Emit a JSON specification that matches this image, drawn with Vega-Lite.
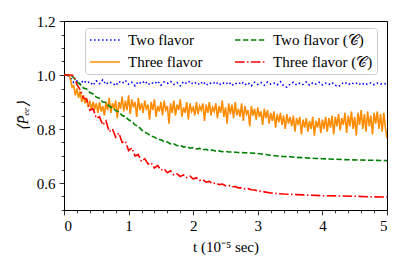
{
"$schema": "https://vega.github.io/schema/vega-lite/v6.json",
"width": 323, "height": 189,
"autosize": {"type": "none"},
"padding": {"left": 64, "top": 21, "right": 20, "bottom": 61},
"background": "white",
"data": {"values": [
{"s":"a","t":0,"v":1},{"s":"a","t":0.05,"v":1},{"s":"a","t":0.1,"v":0.99},{"s":"a","t":0.15,"v":0.972},{"s":"a","t":0.2,"v":0.978},{"s":"a","t":0.25,"v":0.966},{"s":"a","t":0.3,"v":0.98},{"s":"a","t":0.35,"v":0.97},{"s":"a","t":0.4,"v":0.975},{"s":"a","t":0.45,"v":0.962},{"s":"a","t":0.5,"v":0.978},{"s":"a","t":0.55,"v":0.968},{"s":"a","t":0.6,"v":0.982},{"s":"a","t":0.65,"v":0.965},{"s":"a","t":0.7,"v":0.974},{"s":"a","t":0.75,"v":0.97},{"s":"a","t":0.8,"v":0.961},{"s":"a","t":0.85,"v":0.976},{"s":"a","t":0.9,"v":0.969},{"s":"a","t":0.95,"v":0.98},{"s":"a","t":1.0,"v":0.966},{"s":"a","t":1.05,"v":0.973},{"s":"a","t":1.1,"v":0.96},{"s":"a","t":1.15,"v":0.975},{"s":"a","t":1.2,"v":0.968},{"s":"a","t":1.25,"v":0.978},{"s":"a","t":1.3,"v":0.964},{"s":"a","t":1.35,"v":0.972},{"s":"a","t":1.4,"v":0.967},{"s":"a","t":1.45,"v":0.977},{"s":"a","t":1.5,"v":0.962},{"s":"a","t":1.55,"v":0.974},{"s":"a","t":1.6,"v":0.969},{"s":"a","t":1.65,"v":0.976},{"s":"a","t":1.7,"v":0.965},{"s":"a","t":1.75,"v":0.972},{"s":"a","t":1.8,"v":0.96},{"s":"a","t":1.85,"v":0.975},{"s":"a","t":1.9,"v":0.968},{"s":"a","t":1.95,"v":0.977},{"s":"a","t":2.0,"v":0.966},{"s":"a","t":2.05,"v":0.973},{"s":"a","t":2.1,"v":0.964},{"s":"a","t":2.15,"v":0.976},{"s":"a","t":2.2,"v":0.962},{"s":"a","t":2.25,"v":0.971},{"s":"a","t":2.3,"v":0.967},{"s":"a","t":2.35,"v":0.975},{"s":"a","t":2.4,"v":0.963},{"s":"a","t":2.45,"v":0.972},{"s":"a","t":2.5,"v":0.966},{"s":"a","t":2.55,"v":0.974},{"s":"a","t":2.6,"v":0.961},{"s":"a","t":2.65,"v":0.97},{"s":"a","t":2.7,"v":0.966},{"s":"a","t":2.75,"v":0.975},{"s":"a","t":2.8,"v":0.963},{"s":"a","t":2.85,"v":0.971},{"s":"a","t":2.9,"v":0.96},{"s":"a","t":2.95,"v":0.973},{"s":"a","t":3.0,"v":0.965},{"s":"a","t":3.05,"v":0.972},{"s":"a","t":3.1,"v":0.962},{"s":"a","t":3.15,"v":0.974},{"s":"a","t":3.2,"v":0.966},{"s":"a","t":3.25,"v":0.97},{"s":"a","t":3.3,"v":0.964},{"s":"a","t":3.35,"v":0.975},{"s":"a","t":3.4,"v":0.96},{"s":"a","t":3.45,"v":0.955},{"s":"a","t":3.5,"v":0.966},{"s":"a","t":3.55,"v":0.973},{"s":"a","t":3.6,"v":0.963},{"s":"a","t":3.65,"v":0.97},{"s":"a","t":3.7,"v":0.965},{"s":"a","t":3.75,"v":0.974},{"s":"a","t":3.8,"v":0.962},{"s":"a","t":3.85,"v":0.971},{"s":"a","t":3.9,"v":0.966},{"s":"a","t":3.95,"v":0.973},{"s":"a","t":4.0,"v":0.963},{"s":"a","t":4.05,"v":0.97},{"s":"a","t":4.1,"v":0.965},{"s":"a","t":4.15,"v":0.972},{"s":"a","t":4.2,"v":0.962},{"s":"a","t":4.25,"v":0.957},{"s":"a","t":4.3,"v":0.968},{"s":"a","t":4.35,"v":0.973},{"s":"a","t":4.4,"v":0.964},{"s":"a","t":4.45,"v":0.971},{"s":"a","t":4.5,"v":0.966},{"s":"a","t":4.55,"v":0.972},{"s":"a","t":4.6,"v":0.963},{"s":"a","t":4.65,"v":0.97},{"s":"a","t":4.7,"v":0.965},{"s":"a","t":4.75,"v":0.971},{"s":"a","t":4.8,"v":0.964},{"s":"a","t":4.85,"v":0.97},{"s":"a","t":4.9,"v":0.966},{"s":"a","t":4.95,"v":0.969},{"s":"a","t":5.0,"v":0.965},
{"s":"b","t":0,"v":1},{"s":"b","t":0.025,"v":1},{"s":"b","t":0.05,"v":1},{"s":"b","t":0.075,"v":1},{"s":"b","t":0.1,"v":0.985},{"s":"b","t":0.125,"v":0.955},{"s":"b","t":0.15,"v":0.96},{"s":"b","t":0.175,"v":0.925},{"s":"b","t":0.2,"v":0.95},{"s":"b","t":0.225,"v":0.915},{"s":"b","t":0.25,"v":0.94},{"s":"b","t":0.275,"v":0.9},{"s":"b","t":0.3,"v":0.925},{"s":"b","t":0.325,"v":0.895},{"s":"b","t":0.35,"v":0.915},{"s":"b","t":0.375,"v":0.88},{"s":"b","t":0.4,"v":0.905},{"s":"b","t":0.425,"v":0.87},{"s":"b","t":0.45,"v":0.9},{"s":"b","t":0.475,"v":0.875},{"s":"b","t":0.5,"v":0.895},{"s":"b","t":0.525,"v":0.86},{"s":"b","t":0.55,"v":0.9},{"s":"b","t":0.575,"v":0.865},{"s":"b","t":0.6,"v":0.885},{"s":"b","t":0.625,"v":0.85},{"s":"b","t":0.65,"v":0.9},{"s":"b","t":0.675,"v":0.87},{"s":"b","t":0.7,"v":0.915},{"s":"b","t":0.725,"v":0.86},{"s":"b","t":0.75,"v":0.895},{"s":"b","t":0.775,"v":0.875},{"s":"b","t":0.8,"v":0.905},{"s":"b","t":0.825,"v":0.84},{"s":"b","t":0.85,"v":0.9},{"s":"b","t":0.875,"v":0.875},{"s":"b","t":0.9,"v":0.92},{"s":"b","t":0.925,"v":0.865},{"s":"b","t":0.95,"v":0.905},{"s":"b","t":0.975,"v":0.87},{"s":"b","t":1.0,"v":0.925},{"s":"b","t":1.025,"v":0.855},{"s":"b","t":1.05,"v":0.91},{"s":"b","t":1.075,"v":0.88},{"s":"b","t":1.1,"v":0.9},{"s":"b","t":1.125,"v":0.845},{"s":"b","t":1.15,"v":0.915},{"s":"b","t":1.175,"v":0.87},{"s":"b","t":1.2,"v":0.895},{"s":"b","t":1.225,"v":0.86},{"s":"b","t":1.25,"v":0.905},{"s":"b","t":1.275,"v":0.875},{"s":"b","t":1.3,"v":0.89},{"s":"b","t":1.325,"v":0.835},{"s":"b","t":1.35,"v":0.9},{"s":"b","t":1.375,"v":0.87},{"s":"b","t":1.4,"v":0.91},{"s":"b","t":1.425,"v":0.845},{"s":"b","t":1.45,"v":0.885},{"s":"b","t":1.475,"v":0.865},{"s":"b","t":1.5,"v":0.9},{"s":"b","t":1.525,"v":0.85},{"s":"b","t":1.55,"v":0.905},{"s":"b","t":1.575,"v":0.87},{"s":"b","t":1.6,"v":0.885},{"s":"b","t":1.625,"v":0.82},{"s":"b","t":1.65,"v":0.895},{"s":"b","t":1.675,"v":0.86},{"s":"b","t":1.7,"v":0.905},{"s":"b","t":1.725,"v":0.85},{"s":"b","t":1.75,"v":0.89},{"s":"b","t":1.775,"v":0.87},{"s":"b","t":1.8,"v":0.91},{"s":"b","t":1.825,"v":0.845},{"s":"b","t":1.85,"v":0.88},{"s":"b","t":1.875,"v":0.86},{"s":"b","t":1.9,"v":0.9},{"s":"b","t":1.925,"v":0.835},{"s":"b","t":1.95,"v":0.895},{"s":"b","t":1.975,"v":0.865},{"s":"b","t":2.0,"v":0.88},{"s":"b","t":2.025,"v":0.85},{"s":"b","t":2.05,"v":0.9},{"s":"b","t":2.075,"v":0.855},{"s":"b","t":2.1,"v":0.885},{"s":"b","t":2.125,"v":0.87},{"s":"b","t":2.15,"v":0.895},{"s":"b","t":2.175,"v":0.83},{"s":"b","t":2.2,"v":0.89},{"s":"b","t":2.225,"v":0.86},{"s":"b","t":2.25,"v":0.9},{"s":"b","t":2.275,"v":0.85},{"s":"b","t":2.3,"v":0.88},{"s":"b","t":2.325,"v":0.865},{"s":"b","t":2.35,"v":0.895},{"s":"b","t":2.375,"v":0.84},{"s":"b","t":2.4,"v":0.885},{"s":"b","t":2.425,"v":0.86},{"s":"b","t":2.45,"v":0.905},{"s":"b","t":2.475,"v":0.845},{"s":"b","t":2.5,"v":0.88},{"s":"b","t":2.525,"v":0.82},{"s":"b","t":2.55,"v":0.895},{"s":"b","t":2.575,"v":0.855},{"s":"b","t":2.6,"v":0.89},{"s":"b","t":2.625,"v":0.84},{"s":"b","t":2.65,"v":0.9},{"s":"b","t":2.675,"v":0.85},{"s":"b","t":2.7,"v":0.875},{"s":"b","t":2.725,"v":0.845},{"s":"b","t":2.75,"v":0.895},{"s":"b","t":2.775,"v":0.83},{"s":"b","t":2.8,"v":0.885},{"s":"b","t":2.825,"v":0.855},{"s":"b","t":2.85,"v":0.87},{"s":"b","t":2.875,"v":0.81},{"s":"b","t":2.9,"v":0.885},{"s":"b","t":2.925,"v":0.85},{"s":"b","t":2.95,"v":0.875},{"s":"b","t":2.975,"v":0.835},{"s":"b","t":3.0,"v":0.88},{"s":"b","t":3.025,"v":0.845},{"s":"b","t":3.05,"v":0.865},{"s":"b","t":3.075,"v":0.815},{"s":"b","t":3.1,"v":0.875},{"s":"b","t":3.125,"v":0.84},{"s":"b","t":3.15,"v":0.87},{"s":"b","t":3.175,"v":0.82},{"s":"b","t":3.2,"v":0.86},{"s":"b","t":3.225,"v":0.83},{"s":"b","t":3.25,"v":0.865},{"s":"b","t":3.275,"v":0.805},{"s":"b","t":3.3,"v":0.855},{"s":"b","t":3.325,"v":0.825},{"s":"b","t":3.35,"v":0.86},{"s":"b","t":3.375,"v":0.815},{"s":"b","t":3.4,"v":0.85},{"s":"b","t":3.425,"v":0.8},{"s":"b","t":3.45,"v":0.855},{"s":"b","t":3.475,"v":0.82},{"s":"b","t":3.5,"v":0.845},{"s":"b","t":3.525,"v":0.81},{"s":"b","t":3.55,"v":0.85},{"s":"b","t":3.575,"v":0.79},{"s":"b","t":3.6,"v":0.84},{"s":"b","t":3.625,"v":0.815},{"s":"b","t":3.65,"v":0.845},{"s":"b","t":3.675,"v":0.78},{"s":"b","t":3.7,"v":0.835},{"s":"b","t":3.725,"v":0.805},{"s":"b","t":3.75,"v":0.84},{"s":"b","t":3.775,"v":0.79},{"s":"b","t":3.8,"v":0.83},{"s":"b","t":3.825,"v":0.8},{"s":"b","t":3.85,"v":0.845},{"s":"b","t":3.875,"v":0.775},{"s":"b","t":3.9,"v":0.83},{"s":"b","t":3.925,"v":0.805},{"s":"b","t":3.95,"v":0.84},{"s":"b","t":3.975,"v":0.785},{"s":"b","t":4.0,"v":0.835},{"s":"b","t":4.025,"v":0.8},{"s":"b","t":4.05,"v":0.845},{"s":"b","t":4.075,"v":0.79},{"s":"b","t":4.1,"v":0.84},{"s":"b","t":4.125,"v":0.805},{"s":"b","t":4.15,"v":0.85},{"s":"b","t":4.175,"v":0.78},{"s":"b","t":4.2,"v":0.845},{"s":"b","t":4.225,"v":0.81},{"s":"b","t":4.25,"v":0.855},{"s":"b","t":4.275,"v":0.795},{"s":"b","t":4.3,"v":0.84},{"s":"b","t":4.325,"v":0.815},{"s":"b","t":4.35,"v":0.86},{"s":"b","t":4.375,"v":0.785},{"s":"b","t":4.4,"v":0.85},{"s":"b","t":4.425,"v":0.81},{"s":"b","t":4.45,"v":0.865},{"s":"b","t":4.475,"v":0.8},{"s":"b","t":4.5,"v":0.845},{"s":"b","t":4.525,"v":0.775},{"s":"b","t":4.55,"v":0.86},{"s":"b","t":4.575,"v":0.815},{"s":"b","t":4.6,"v":0.87},{"s":"b","t":4.625,"v":0.8},{"s":"b","t":4.65,"v":0.855},{"s":"b","t":4.675,"v":0.79},{"s":"b","t":4.7,"v":0.865},{"s":"b","t":4.725,"v":0.81},{"s":"b","t":4.75,"v":0.85},{"s":"b","t":4.775,"v":0.78},{"s":"b","t":4.8,"v":0.86},{"s":"b","t":4.825,"v":0.82},{"s":"b","t":4.85,"v":0.865},{"s":"b","t":4.875,"v":0.8},{"s":"b","t":4.9,"v":0.855},{"s":"b","t":4.925,"v":0.79},{"s":"b","t":4.95,"v":0.86},{"s":"b","t":4.975,"v":0.805},{"s":"b","t":5.0,"v":0.765},
{"s":"c","t":0,"v":1},{"s":"c","t":0.05,"v":1},{"s":"c","t":0.1,"v":1},{"s":"c","t":0.15,"v":0.99},{"s":"c","t":0.2,"v":0.975},{"s":"c","t":0.25,"v":0.965},{"s":"c","t":0.3,"v":0.952},{"s":"c","t":0.35,"v":0.948},{"s":"c","t":0.4,"v":0.935},{"s":"c","t":0.45,"v":0.93},{"s":"c","t":0.5,"v":0.918},{"s":"c","t":0.55,"v":0.914},{"s":"c","t":0.6,"v":0.9},{"s":"c","t":0.65,"v":0.898},{"s":"c","t":0.7,"v":0.885},{"s":"c","t":0.75,"v":0.878},{"s":"c","t":0.8,"v":0.868},{"s":"c","t":0.85,"v":0.864},{"s":"c","t":0.9,"v":0.85},{"s":"c","t":0.95,"v":0.846},{"s":"c","t":1.0,"v":0.834},{"s":"c","t":1.05,"v":0.828},{"s":"c","t":1.1,"v":0.815},{"s":"c","t":1.15,"v":0.81},{"s":"c","t":1.2,"v":0.797},{"s":"c","t":1.25,"v":0.788},{"s":"c","t":1.3,"v":0.782},{"s":"c","t":1.35,"v":0.774},{"s":"c","t":1.4,"v":0.77},{"s":"c","t":1.45,"v":0.762},{"s":"c","t":1.5,"v":0.76},{"s":"c","t":1.55,"v":0.753},{"s":"c","t":1.6,"v":0.752},{"s":"c","t":1.65,"v":0.745},{"s":"c","t":1.7,"v":0.745},{"s":"c","t":1.75,"v":0.738},{"s":"c","t":1.8,"v":0.74},{"s":"c","t":1.85,"v":0.733},{"s":"c","t":1.9,"v":0.735},{"s":"c","t":1.95,"v":0.729},{"s":"c","t":2.0,"v":0.731},{"s":"c","t":2.05,"v":0.726},{"s":"c","t":2.1,"v":0.728},{"s":"c","t":2.15,"v":0.723},{"s":"c","t":2.2,"v":0.725},{"s":"c","t":2.25,"v":0.72},{"s":"c","t":2.3,"v":0.722},{"s":"c","t":2.35,"v":0.718},{"s":"c","t":2.4,"v":0.719},{"s":"c","t":2.45,"v":0.716},{"s":"c","t":2.5,"v":0.717},{"s":"c","t":2.55,"v":0.715},{"s":"c","t":2.6,"v":0.715},{"s":"c","t":2.65,"v":0.714},{"s":"c","t":2.7,"v":0.713},{"s":"c","t":2.8,"v":0.712},{"s":"c","t":2.9,"v":0.711},{"s":"c","t":3.0,"v":0.709},{"s":"c","t":3.1,"v":0.706},{"s":"c","t":3.2,"v":0.703},{"s":"c","t":3.3,"v":0.7},{"s":"c","t":3.4,"v":0.698},{"s":"c","t":3.5,"v":0.697},{"s":"c","t":3.6,"v":0.695},{"s":"c","t":3.7,"v":0.694},{"s":"c","t":3.8,"v":0.692},{"s":"c","t":3.9,"v":0.691},{"s":"c","t":4.0,"v":0.69},{"s":"c","t":4.2,"v":0.688},{"s":"c","t":4.4,"v":0.686},{"s":"c","t":4.6,"v":0.685},{"s":"c","t":4.8,"v":0.684},{"s":"c","t":5.0,"v":0.683},
{"s":"d","t":0,"v":1},{"s":"d","t":0.05,"v":1},{"s":"d","t":0.1,"v":1},{"s":"d","t":0.15,"v":0.998},{"s":"d","t":0.2,"v":0.965},{"s":"d","t":0.25,"v":0.945},{"s":"d","t":0.3,"v":0.915},{"s":"d","t":0.35,"v":0.91},{"s":"d","t":0.4,"v":0.87},{"s":"d","t":0.45,"v":0.875},{"s":"d","t":0.5,"v":0.84},{"s":"d","t":0.55,"v":0.845},{"s":"d","t":0.6,"v":0.815},{"s":"d","t":0.65,"v":0.83},{"s":"d","t":0.7,"v":0.79},{"s":"d","t":0.75,"v":0.8},{"s":"d","t":0.8,"v":0.77},{"s":"d","t":0.85,"v":0.785},{"s":"d","t":0.9,"v":0.75},{"s":"d","t":0.95,"v":0.755},{"s":"d","t":1.0,"v":0.72},{"s":"d","t":1.05,"v":0.73},{"s":"d","t":1.1,"v":0.7},{"s":"d","t":1.15,"v":0.705},{"s":"d","t":1.2,"v":0.68},{"s":"d","t":1.25,"v":0.69},{"s":"d","t":1.3,"v":0.67},{"s":"d","t":1.35,"v":0.675},{"s":"d","t":1.4,"v":0.655},{"s":"d","t":1.45,"v":0.665},{"s":"d","t":1.5,"v":0.648},{"s":"d","t":1.55,"v":0.652},{"s":"d","t":1.6,"v":0.638},{"s":"d","t":1.65,"v":0.645},{"s":"d","t":1.7,"v":0.63},{"s":"d","t":1.75,"v":0.634},{"s":"d","t":1.8,"v":0.624},{"s":"d","t":1.85,"v":0.63},{"s":"d","t":1.9,"v":0.62},{"s":"d","t":1.95,"v":0.625},{"s":"d","t":2.0,"v":0.615},{"s":"d","t":2.05,"v":0.62},{"s":"d","t":2.1,"v":0.61},{"s":"d","t":2.15,"v":0.612},{"s":"d","t":2.2,"v":0.603},{"s":"d","t":2.25,"v":0.606},{"s":"d","t":2.3,"v":0.598},{"s":"d","t":2.35,"v":0.6},{"s":"d","t":2.4,"v":0.594},{"s":"d","t":2.45,"v":0.596},{"s":"d","t":2.5,"v":0.59},{"s":"d","t":2.55,"v":0.591},{"s":"d","t":2.6,"v":0.586},{"s":"d","t":2.65,"v":0.587},{"s":"d","t":2.7,"v":0.582},{"s":"d","t":2.75,"v":0.582},{"s":"d","t":2.8,"v":0.578},{"s":"d","t":2.85,"v":0.579},{"s":"d","t":2.9,"v":0.575},{"s":"d","t":2.95,"v":0.574},{"s":"d","t":3.0,"v":0.571},{"s":"d","t":3.1,"v":0.567},{"s":"d","t":3.2,"v":0.563},{"s":"d","t":3.3,"v":0.561},{"s":"d","t":3.4,"v":0.559},{"s":"d","t":3.5,"v":0.558},{"s":"d","t":3.6,"v":0.557},{"s":"d","t":3.7,"v":0.556},{"s":"d","t":3.8,"v":0.555},{"s":"d","t":3.9,"v":0.554},{"s":"d","t":4.0,"v":0.553},{"s":"d","t":4.25,"v":0.552},{"s":"d","t":4.5,"v":0.551},{"s":"d","t":4.75,"v":0.549},{"s":"d","t":5.0,"v":0.548}
]},
"layer": [
{
"mark": {"type": "line", "strokeWidth": 1.6, "clip": true},
"encoding": {
"x": {"field": "t", "type": "quantitative", "scale": {"domain": [0, 5], "nice": false, "zero": false},
 "axis": {"values": [0,1,2,3,4,5], "format": "d", "title": "t (10⁻⁵ sec)", "orient": "bottom"}},
"y": {"field": "v", "type": "quantitative", "scale": {"domain": [0.5, 1.2], "nice": false, "zero": false},
 "axis": {"values": [0.6,0.8,1.0,1.2], "format": ".1f", "title": "⟨P̄ₑₑ⟩", "orient": "left", "titleFontStyle": "italic"}},
"color": {"field": "s", "type": "nominal",
 "scale": {"domain": ["a","b","c","d"], "range": ["#0000ff","#ff8c00","#008000","#ff0000"]},
 "legend": {"title": null, "columns": 2, "orient": "none", "legendX": 21, "legendY": 7, "values": ["a","b","c","d"],
  "labelExpr": "datum.value == 'a' ? 'Two flavor' : datum.value == 'b' ? 'Three flavor' : datum.value == 'c' ? 'Two flavor (𝒞)' : 'Three flavor (𝒞)'"}},
"strokeDash": {"field": "s", "type": "nominal",
 "scale": {"domain": ["a","b","c","d"], "range": [[1.5,2.5],[1,0],[5.5,2.4],[9.6,2.4,1.5,2.4]]},
 "legend": {"title": null, "columns": 2, "orient": "none", "legendX": 21, "legendY": 7, "values": ["a","b","c","d"],
  "labelExpr": "datum.value == 'a' ? 'Two flavor' : datum.value == 'b' ? 'Three flavor' : datum.value == 'c' ? 'Two flavor (𝒞)' : 'Three flavor (𝒞)'"}}
}
},
{
"mark": {"type": "line", "opacity": 0},
"encoding": {
"x": {"field": "t", "type": "quantitative",
 "axis": {"values": [0.2,0.4,0.6,0.8,1.2,1.4,1.6,1.8,2.2,2.4,2.6,2.8,3.2,3.4,3.6,3.8,4.2,4.4,4.6,4.8], "labels": false, "tickSize": 2.8, "domain": false, "title": null, "orient": "bottom"}},
"y": {"field": "v", "type": "quantitative",
 "axis": {"values": [0.5,0.55,0.65,0.7,0.75,0.85,0.9,0.95,1.05,1.1,1.15], "labels": false, "tickSize": 2.8, "domain": false, "title": null, "orient": "left"}}
}
}
],
"resolve": {"axis": {"x": "independent", "y": "independent"}},
"config": {
"font": "Liberation Serif",
"view": {"stroke": "black", "strokeWidth": 1},
"axis": {"grid": false, "domainColor": "black", "tickColor": "black", "tickSize": 4.9, "tickWidth": 0.8,
 "labelFont": "Liberation Serif", "labelFontSize": 15, "labelColor": "black", "labelPadding": 4,
 "titleFont": "Liberation Serif", "titleFontSize": 15, "titleFontWeight": "normal", "titleColor": "black"},
"axisX": {"titlePadding": 6},
"axisY": {"titlePadding": 6},
"legend": {"symbolType": "M-2.14,0H2.14", "symbolSize": 196, "symbolOffset": 8, "symbolStrokeWidth": 1.6,
 "labelFont": "Liberation Serif", "labelFontSize": 15, "labelColor": "black", "labelOffset": 15,
 "fillColor": "white", "strokeColor": "#cccccc", "cornerRadius": 3, "padding": 4,
 "rowPadding": 6, "columnPadding": 28}
}
}
